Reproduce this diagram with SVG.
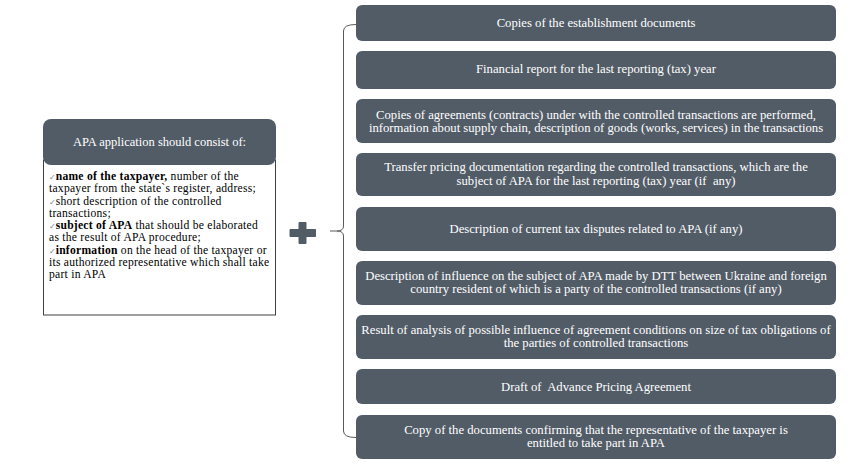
<svg xmlns="http://www.w3.org/2000/svg" width="851" height="471" viewBox="0 0 851 471">
<style>
.box{fill:#525c67}
.wt{fill:#ffffff;font-family:"Liberation Serif",serif;font-size:12.7px;text-anchor:middle;white-space:pre}
.ht{fill:#ffffff;font-family:"Liberation Serif",serif;font-size:12.5px;text-anchor:middle}
.bt{fill:#000000;font-family:"Liberation Serif",serif;font-size:11.6px;letter-spacing:0.25px;white-space:pre}
.b{font-weight:bold}
.ck{fill:#808080;font-family:"DejaVu Sans",sans-serif;font-size:8px;letter-spacing:0}
.conn{fill:none;stroke:#595959;stroke-width:1}
</style>
<rect width="851" height="471" fill="#ffffff"/>
<g id="apa-application">
  <rect x="43.5" y="160" width="232" height="155" fill="#ffffff" stroke="#404040" stroke-width="1"/>
  <rect class="box" x="43" y="119" width="233" height="46" rx="8"/>
  <text class="ht" x="159.5" y="146">APA application should consist of:</text>
  <text class="bt" x="49" y="180"><tspan class="ck">✓</tspan><tspan class="b">name of the taxpayer,</tspan> number of the</text>
  <text class="bt" x="49" y="192.3">taxpayer from the state`s register, address;</text>
  <text class="bt" x="49" y="204.5"><tspan class="ck">✓</tspan>short description of the controlled</text>
  <text class="bt" x="49" y="216.8">transactions;</text>
  <text class="bt" x="49" y="229"><tspan class="ck">✓</tspan><tspan class="b">subject of APA</tspan> that should be elaborated</text>
  <text class="bt" x="49" y="241.3">as the result of APA procedure;</text>
  <text class="bt" x="49" y="253.5"><tspan class="ck">✓</tspan><tspan class="b">information</tspan> on the head of the taxpayer or</text>
  <text class="bt" x="49" y="265.8">its authorized representative which shall take</text>
  <text class="bt" x="49" y="278">part in APA</text>
</g>
<g id="plus">
  <path d="M299,222.5 h7 v7 h9.5 v7 h-9.5 v7 h-7 v-7 h-9 v-7 h9 z" fill="#525c67" stroke="#525c67" stroke-width="1" stroke-linejoin="round"/>
</g>
<g id="connectors">
  <path class="conn" d="M356,24.5 Q343.5,24.5 343.5,31 L343.5,226 Q343.5,231 337,231 L330,231 M337,231 Q343.5,231 343.5,236 L343.5,431 Q343.5,437.5 356,437.5"/>
</g>
<g id="item1">
  <rect class="box" x="356" y="5" width="480" height="36" rx="6"/>
  <text class="wt" x="596" y="27">Copies of the establishment documents</text>
</g>
<g id="item2">
  <rect class="box" x="356" y="51" width="480" height="38" rx="6"/>
  <text class="wt" x="596" y="73">Financial report for the last reporting (tax) year</text>
</g>
<g id="item3">
  <rect class="box" x="356" y="99" width="480" height="44" rx="6"/>
  <text class="wt" x="596" y="118.5">Copies of agreements (contracts) under with the controlled transactions are performed,</text>
  <text class="wt" x="596" y="131.5">information about supply chain, description of goods (works, services) in the transactions</text>
</g>
<g id="item4">
  <rect class="box" x="356" y="153" width="480" height="43" rx="6"/>
  <text class="wt" x="596" y="171">Transfer pricing documentation regarding the controlled transactions, which are the</text>
  <text class="wt" x="596" y="184.5">subject of APA for the last reporting (tax) year (if  any)</text>
</g>
<g id="item5">
  <rect class="box" x="356" y="207" width="480" height="44" rx="6"/>
  <text class="wt" x="596" y="233">Description of current tax disputes related to APA (if any)</text>
</g>
<g id="item6">
  <rect class="box" x="356" y="261" width="480" height="44" rx="6"/>
  <text class="wt" x="596" y="279.5">Description of influence on the subject of APA made by DTT between Ukraine and foreign</text>
  <text class="wt" x="596" y="292.5">country resident of which is a party of the controlled transactions (if any)</text>
</g>
<g id="item7">
  <rect class="box" x="356" y="315" width="480" height="44" rx="6"/>
  <text class="wt" x="596" y="333.5">Result of analysis of possible influence of agreement conditions on size of tax obligations of</text>
  <text class="wt" x="596" y="346.5">the parties of controlled transactions</text>
</g>
<g id="item8">
  <rect class="box" x="356" y="369" width="480" height="35" rx="6"/>
  <text class="wt" x="596" y="390.5">Draft of  Advance Pricing Agreement</text>
</g>
<g id="item9">
  <rect class="box" x="356" y="415" width="480" height="44" rx="6"/>
  <text class="wt" x="596" y="433.5">Copy of the documents confirming that the representative of the taxpayer is</text>
  <text class="wt" x="596" y="446.5">entitled to take part in APA</text>
</g>
</svg>
